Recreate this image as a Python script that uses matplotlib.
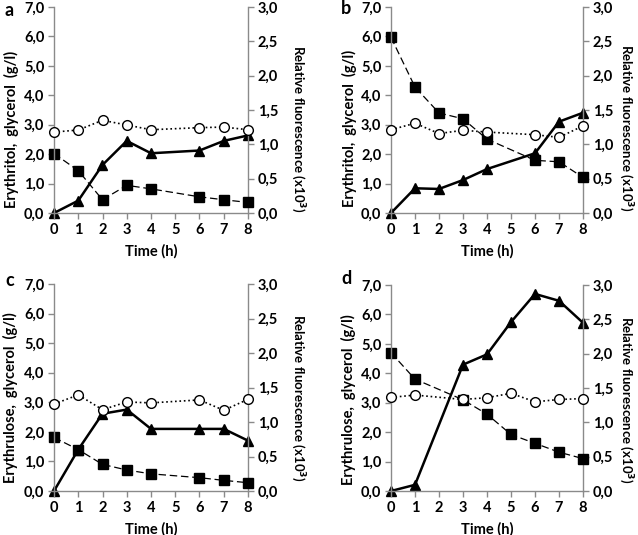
import matplotlib
matplotlib.use("Agg")
import matplotlib.pyplot as plt

plt.rcParams['font.family'] = ['Lato', 'DejaVu Sans']
plt.rcParams['font.weight'] = 'bold'

# time points (h)
t_a = [0, 1, 2, 3, 4, 6, 7, 8]
t_b = [0, 1, 2, 3, 4, 6, 7, 8]
t_c = [0, 1, 2, 3, 4, 6, 7, 8]
t_d = [0, 1, 3, 4, 5, 6, 7, 8]

# squares (g/l)
sq_a = [2.02, 1.44, 0.45, 0.94, 0.82, 0.55, 0.45, 0.36]
sq_b = [5.97, 4.28, 3.40, 3.20, 2.51, 1.79, 1.74, 1.21]
sq_c = [1.81, 1.40, 0.90, 0.71, 0.58, 0.45, 0.36, 0.28]
sq_d = [4.70, 3.80, 3.10, 2.61, 1.92, 1.62, 1.32, 1.10]

# circles (g/l)
ci_a = [2.75, 2.82, 3.15, 2.99, 2.83, 2.90, 2.92, 2.83]
ci_b = [2.83, 3.05, 2.70, 2.81, 2.75, 2.66, 2.57, 2.96]
ci_c = [2.94, 3.25, 2.75, 3.01, 2.98, 3.08, 2.73, 3.10]
ci_d = [3.18, 3.26, 3.11, 3.17, 3.32, 3.03, 3.11, 3.14]

# triangles: relative fluorescence (x10^3)
fl_a = [0.0, 0.18, 0.70, 1.05, 0.87, 0.91, 1.05, 1.13]
fl_b = [0.0, 0.36, 0.35, 0.48, 0.64, 0.87, 1.33, 1.46]
fl_c = [0.0, 0.60, 1.12, 1.18, 0.90, 0.90, 0.90, 0.73]
fl_d = [0.0, 0.09, 1.84, 1.99, 2.46, 2.87, 2.77, 2.45]

letters = ['a', 'b', 'c', 'd']
ylabels = ['Erythritol,  glycerol  (g/l)', 'Erythritol,  glycerol  (g/l)',
           'Erythrulose,  glycerol  (g/l)', 'Erythrulose,  glycerol  (g/l)']
left_ticks = [0, 1, 2, 3, 4, 5, 6, 7]
right_ticks = [0, 0.5, 1.0, 1.5, 2.0, 2.5, 3.0]
x_ticks = [0, 1, 2, 3, 4, 5, 6, 7, 8]

panels = [
    (t_a, sq_a, ci_a, fl_a),
    (t_b, sq_b, ci_b, fl_b),
    (t_c, sq_c, ci_c, fl_c),
    (t_d, sq_d, ci_d, fl_d),
]

W, H = 638, 535
boxes = [(54, 248, 7, 213), (391, 583, 7, 213), (54, 248, 284, 491), (391, 583, 285, 491)]
letter_pos = [(5, 10), (341, 9), (5, 281), (341, 279)]
# label centres in pixels: (left x, right x, y)
label_pos = [(11, 298, 129), (349, 626, 128), (10, 298, 398), (348, 626, 400)]

fig = plt.figure(figsize=(W / 100, H / 100), dpi=100)
grey = '#8a8a8a'
fs = 10.5

for i, (t, sq, ci, fl) in enumerate(panels):
    l, r, top, bot = boxes[i]
    ax = fig.add_axes([l / W, 1 - bot / H, (r - l) / W, (bot - top) / H])
    ax2 = ax.twinx()
    ax.set_zorder(ax2.get_zorder() + 1)
    ax.patch.set_visible(False)

    ax2.plot(t, fl, '-', color='black', lw=1.8, marker='^', ms=7, mfc='black', mec='black', clip_on=False)
    ax.plot(t, sq, '--', color='black', lw=0.9, dashes=(6, 3), marker='s', ms=6.5, clip_on=False, zorder=2)
    ax.plot(t, ci, ':', color='black', lw=1.2, marker='o', ms=7, mfc='white', mec='black', clip_on=False, zorder=3)

    ax.set_xlim(0, 8)
    ax.set_ylim(0, 7)
    ax2.set_ylim(0, 3)
    ax.set_xticks(x_ticks)
    ax.set_xticklabels([str(x) for x in x_ticks], fontsize=fs, fontweight='bold')
    ax.set_yticks(left_ticks)
    ax.set_yticklabels([f'{v:.1f}'.replace('.', ',') for v in left_ticks], fontsize=fs, fontweight='bold')
    ax2.set_yticks(right_ticks)
    ax2.set_yticklabels([f'{v:.1f}'.replace('.', ',') for v in right_ticks], fontsize=fs, fontweight='bold')

    for a in (ax, ax2):
        a.spines['top'].set_visible(False)
        for s in ('left', 'right', 'bottom'):
            a.spines[s].set_color(grey)
            a.spines[s].set_linewidth(1.0)
        a.tick_params(color=grey, length=4, width=1.0, pad=3)
    ax.spines['right'].set_visible(False)
    ax2.spines['left'].set_visible(False)
    ax2.spines['bottom'].set_visible(False)

    ax.set_xlabel('Time (h)', fontsize=fs, fontweight='bold', labelpad=5)
    ax.set_ylabel(ylabels[i], fontsize=fs, fontweight='bold', va='center')
    ax2.set_ylabel('Relative fluorescence (x10$^3$)', fontsize=9.5, fontweight='bold',
                   rotation=270, va='center')
    lxp, rxp, yp = label_pos[i]
    ax.yaxis.set_label_coords((lxp - l) / (r - l), (bot - yp) / (bot - top))
    ax2.yaxis.set_label_coords((rxp - l) / (r - l), (bot - yp) / (bot - top))

    lx, ly = letter_pos[i]
    fig.text(lx / W, 1 - ly / H, letters[i], fontsize=13, fontweight='bold', va='center', ha='left')

fig.savefig('out.png', dpi=100)
